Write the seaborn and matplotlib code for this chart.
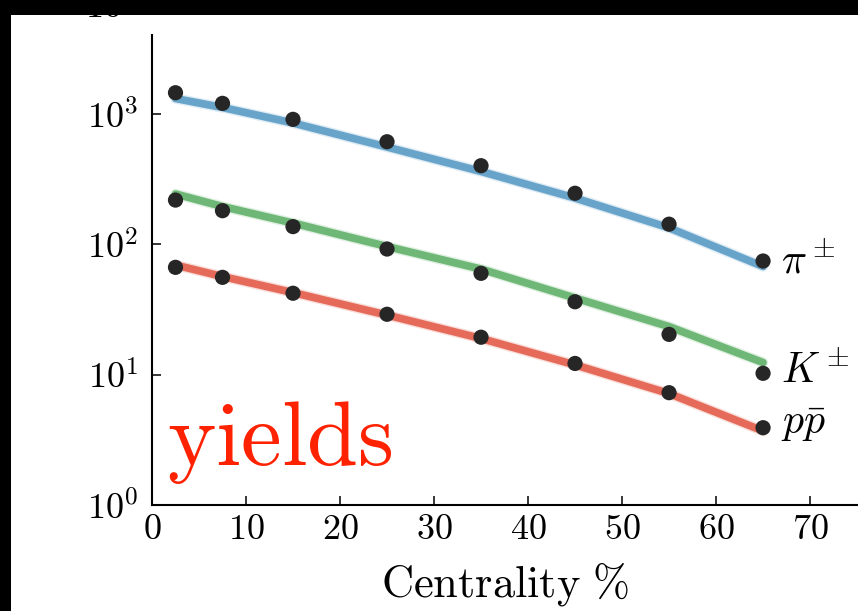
import numpy as np
import pandas as pd
import matplotlib
matplotlib.use("Agg")
import matplotlib.pyplot as plt
from matplotlib.patches import Rectangle
from matplotlib.ticker import FixedLocator, FuncFormatter, NullLocator
import seaborn as sns

# ---- data ----
centrality = [2.5, 7.5, 15, 25, 35, 45, 55, 65]

pion_data = [1460, 1210, 912, 614, 402, 247, 143, 74.6]
kaon_data = [219, 181.5, 137, 92.2, 60, 36.3, 20.4, 10.25]
proton_data = [66.7, 55.9, 42.2, 29.1, 19.4, 12.2, 7.28, 3.92]

pion_model = [1318, 1124, 855, 559, 363, 227, 134, 67.7]
kaon_model = [244, 195.4, 146, 96.4, 64.7, 38.8, 23.4, 12.4]
proton_model = [69.5, 56.7, 42.7, 28.7, 18.97, 11.9, 7.17, 3.70]

species = ["pion", "kaon", "proton"]
species_labels = [r"$\pi^\pm$", r"$K^\pm$", r"$p\bar{p}$"]
species_colors = ["#62a0c8", "#68b470", "#e46452"]
x_ticks = [0, 10, 20, 30, 40, 50, 60, 70]
y_ticks = [1, 10, 100, 1000]

model = pd.DataFrame({
    "centrality": centrality * 3,
    "yield": pion_model + kaon_model + proton_model,
    "species": sum([[s] * len(centrality) for s in species], []),
})
data = pd.DataFrame({
    "centrality": centrality * 3,
    "yield": pion_data + kaon_data + proton_data,
    "species": sum([[s] * len(centrality) for s in species], []),
})

# ---- style ----
sns.set_style("ticks")
plt.rcParams["mathtext.fontset"] = "cm"
plt.rcParams["font.family"] = ["serif"]
plt.rcParams["font.serif"] = ["cmr10", "DejaVu Serif"]
plt.rcParams["axes.unicode_minus"] = False

fig = plt.figure(figsize=(8.58, 6.11), dpi=100, facecolor="white")
ax = fig.add_axes([152 / 858, 106 / 611, 706 / 858, 470 / 611])
ax.set_facecolor("white")

palette = dict(zip(species, species_colors))
# soft halo + core band for model curves
sns.lineplot(data=model, x="centrality", y="yield", hue="species",
             palette=palette, linewidth=7.5, alpha=0.2, legend=False,
             ax=ax, zorder=2)
sns.lineplot(data=model, x="centrality", y="yield", hue="species",
             palette=palette, linewidth=5.5, alpha=0.95, legend=False,
             ax=ax, zorder=3)
sns.scatterplot(data=data, x="centrality", y="yield", color="#262626",
                s=120, edgecolor="none", legend=False, ax=ax, zorder=4)

ax.set_yscale("log")
ax.set_xlim(0, 75.1)
ax.set_ylim(1, 4050)

ax.xaxis.set_major_locator(FixedLocator(x_ticks))
ax.xaxis.set_major_formatter(FuncFormatter(lambda v, p: r"$%d$" % v))
ax.yaxis.set_major_locator(FixedLocator(y_ticks))
ax.yaxis.set_major_formatter(FuncFormatter(lambda v, p: r"$10^{%d}$" % round(np.log10(v))))
ax.yaxis.set_minor_locator(NullLocator())
ax.xaxis.set_minor_locator(NullLocator())

ax.tick_params(axis="both", which="major", direction="in", length=6.5,
               width=1.1, color="black", labelsize=26, labelcolor="black")
ax.tick_params(axis="y", pad=10)
ax.tick_params(axis="x", pad=7)

for side in ["top", "right"]:
    ax.spines[side].set_visible(False)
for side in ["left", "bottom"]:
    ax.spines[side].set_linewidth(1.5)
    ax.spines[side].set_color("black")

ax.set_xlabel(r"$\mathrm{Centrality}\ \%$", fontsize=32, labelpad=10, color="black")
ax.set_ylabel("")

# species labels
label_y = [60.3, 8.64, 3.51]
for lab, ly in zip(species_labels, label_y):
    ax.text(66.9, ly, lab, fontsize=30, ha="left", va="baseline", color="black")

ax.text(1.6, 2.03, r"$\mathrm{yields}$", fontsize=66, color="#ff2200",
        ha="left", va="baseline")

# cut-off label of the panel above
fig.text(137 / 858, 1 - 19 / 611, r"$10^{4}$", fontsize=26, ha="right",
         va="baseline", color="black")

# black frame bands
fig.add_artist(Rectangle((0, 0), 11 / 858, 1, transform=fig.transFigure,
                         facecolor="black", edgecolor="none", zorder=20))
fig.add_artist(Rectangle((0, 1 - 15 / 611), 1, 15 / 611, transform=fig.transFigure,
                         facecolor="black", edgecolor="none", zorder=20))

fig.savefig("out.png", dpi=100, facecolor="white")
